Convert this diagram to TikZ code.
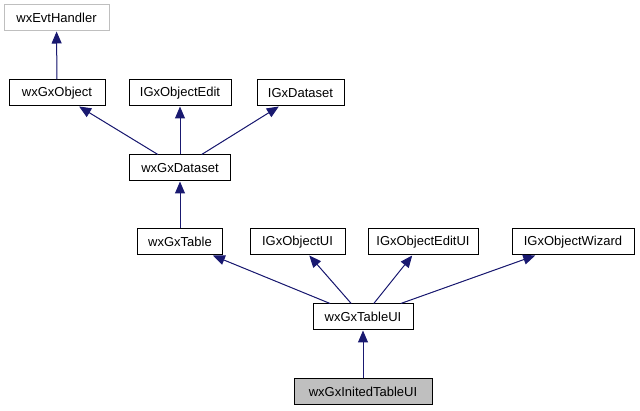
\documentclass[tikz,border=0pt]{standalone}
\usepackage{fontspec}
\setmainfont{Liberation Sans}
\usetikzlibrary{arrows.meta}
\definecolor{edgeblue}{HTML}{191970}
\definecolor{grayborder}{HTML}{BFBFBF}
\definecolor{grayfill}{HTML}{BFBFBF}
\begin{document}
\begin{tikzpicture}[x=1pt,y=-1pt,
  cls/.style={draw=black,line width=1pt,fill=white,minimum height=26pt,inner sep=0pt,
    font=\fontsize{13}{15}\selectfont,text=black},
  ext/.style={cls,draw=grayborder},
  cur/.style={cls,fill=grayfill},
  inh/.style={draw=edgeblue,line width=1pt,-{Triangle[length=12pt,width=10pt]},fill=edgeblue}]
\useasboundingbox (0,0) rectangle (640,411);
\node[ext,minimum width=105pt] (evt) at (56.5,18) {wxEvtHandler};
\node[cls,minimum width=96pt] (obj) at (57,93) {wxGxObject};
\node[cls,minimum width=102pt] (objedit) at (180,93) {IGxObjectEdit};
\node[cls,minimum width=87pt] (idata) at (300.5,93) {IGxDataset};
\node[cls,minimum width=101pt] (dataset) at (180,168) {wxGxDataset};
\node[cls,minimum width=85pt] (table) at (180,242) {wxGxTable};
\node[cls,minimum width=95pt] (objui) at (297.5,242) {IGxObjectUI};
\node[cls,minimum width=110pt] (objeditui) at (423,242) {IGxObjectEditUI};
\node[cls,minimum width=122pt] (wizard) at (573,242) {IGxObjectWizard};
\node[cls,minimum width=100pt] (tableui) at (363,317) {wxGxTableUI};
\node[cur,minimum width=138pt] (inited) at (363,392) {wxGxInitedTableUI};
\draw[inh] (obj) -- (evt);
\draw[inh] (dataset) -- (obj);
\draw[inh] (dataset) -- (objedit);
\draw[inh] (dataset) -- (idata);
\draw[inh] (table) -- (dataset);
\draw[inh] (tableui) -- (table);
\draw[inh] (tableui) -- (objui);
\draw[inh] (tableui) -- (objeditui);
\draw[inh] (tableui) -- (wizard);
\draw[inh] (inited) -- (tableui);
\end{tikzpicture}
\end{document}
